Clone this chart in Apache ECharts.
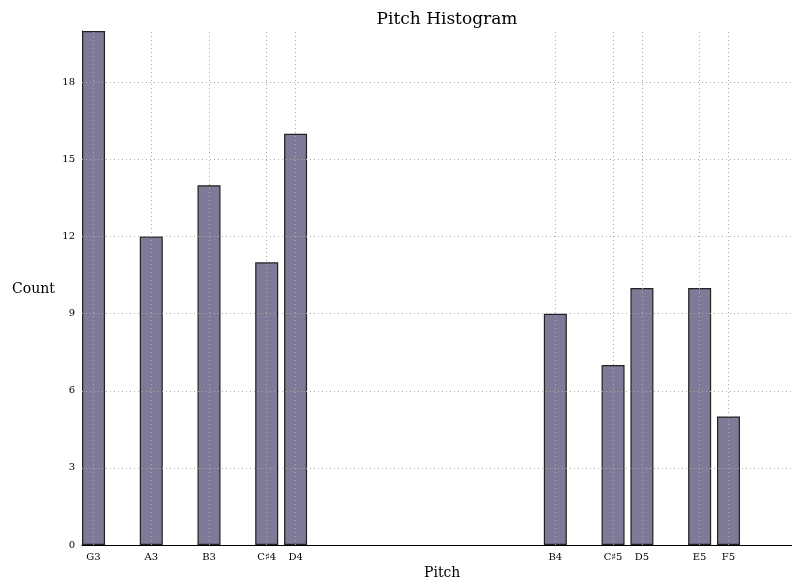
<!DOCTYPE html>
<html>
<head>
<meta charset="utf-8">
<script src="https://cdn.jsdelivr.net/npm/echarts@6/dist/echarts.min.js"></script>
<style>
  html, body { margin: 0; padding: 0; background: #fff; }
  #chart { width: 792px; height: 585px; }
</style>
</head>
<body>
<div id="chart"></div>
<script>
// pitch positions (midi numbers) and names
const pitches = [55, 57, 59, 61, 62, 71, 73, 74, 76, 77];
const pitchNames = ["G3", "A3", "B3", "C♯4", "D4", "B4", "C♯5", "D5", "E5", "F5"];
const counts = [20, 12, 14, 11, 16, 9, 7, 10, 10, 5];
const yTicks = [0, 3, 6, 9, 12, 15, 18];

const font = "DejaVu Serif";
const nameOf = {};
pitches.forEach((p, i) => { nameOf[p] = pitchNames[i]; });

const chart = echarts.init(document.getElementById("chart"));

const dotted = { color: "#aaa", type: [1, 3], width: 1 };
// grid lines drawn over the bars, like the reference
const gridLines = pitches.map(p => ({ xAxis: p }))
    .concat(yTicks.filter(v => v > 0).map(v => ({ yAxis: v })));

chart.setOption({
    animation: false,
    title: {
        text: "Pitch Histogram",
        left: 442, top: 6, textAlign: "center",
        textStyle: { fontFamily: font, fontWeight: "normal", fontSize: 17, color: "#000" }
    },
    graphic: [
        { type: "text", left: 12, top: 282, style: { text: "Count", font: "14px '" + font + "'", fill: "#000" } },
        { type: "text", left: 424, top: 566, style: { text: "Pitch", font: "14px '" + font + "'", fill: "#000" } }
    ],
    grid: { left: 82, right: 0, top: 31, bottom: 40 },
    xAxis: {
        type: "value", min: 54.6, max: 79.2,
        axisLine: { show: true, lineStyle: { color: "#000", width: 1 } },
        axisTick: { show: true, inside: true, length: 5, customValues: pitches, lineStyle: { color: "#000" } },
        axisLabel: {
            customValues: pitches, margin: 7,
            formatter: v => nameOf[v] || "",
            fontFamily: font, fontSize: 10, color: "#000"
        },
        splitLine: { show: false }
    },
    yAxis: {
        type: "value", min: 0, max: 20, interval: 3,
        axisLine: { show: true, lineStyle: { color: "#000" } },
        axisTick: { show: true, inside: true, length: 5, customValues: yTicks, lineStyle: { color: "#000" } },
        axisLabel: { customValues: yTicks, margin: 7, fontFamily: font, fontSize: 10, color: "#000" },
        splitLine: { show: false }
    },
    series: [{
        type: "bar",
        data: pitches.map((p, i) => [p, counts[i]]),
        barWidth: 23,
        itemStyle: { color: "#7e7a98", borderColor: "#222", borderWidth: 1.2 },
        markLine: {
            silent: true, symbol: "none", z: 10,
            label: { show: false },
            lineStyle: dotted,
            data: gridLines
        }
    }]
});
</script>
</body>
</html>
